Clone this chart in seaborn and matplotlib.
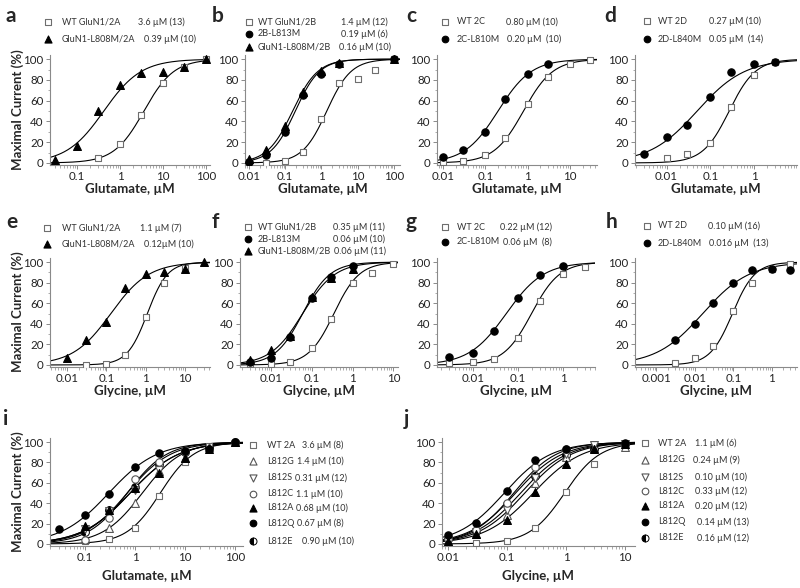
import numpy as np
import pandas as pd
import matplotlib
matplotlib.use('Agg')
import matplotlib.pyplot as plt
import seaborn as sns
from matplotlib.ticker import FuncFormatter, LogLocator, MultipleLocator

sns.set_style('ticks')
plt.rcParams['font.family'] = ['Lato', 'DejaVu Sans']

# ---------------- data ----------------
# panel a (glutamate, GluN1/2A)
a_names = ['WT GluN1/2A', 'GluN1-L808M/2A']
a_ec50_txt = ['3.6 µM (13)', '0.39 µM (10)']
a_marks = ['sq', 'tr']
a_conc = [[0.3, 1, 3, 10, 30, 100], [0.03, 0.1, 0.3, 1, 3, 10, 30, 100]]
a_resp = [[5, 18, 46, 77, 92, 100], [3, 16, 50, 75, 87, 88, 92, 100]]
a_fit_ec50 = [3.6, 0.42]
a_fit_hill = [1.25, 1.0]

# panel b (glutamate, GluN1/2B)
b_names = ['WT GluN1/2B', '2B-L813M', 'GluN1-L808M/2B']
b_ec50_txt = ['1.4 µM (12)', '0.19 µM (6)', '0.16 µM (10)']
b_marks = ['sq', 'ci', 'tr']
b_conc = [[0.01, 0.03, 0.1, 0.3, 1, 3, 10, 30, 100],
          [0.01, 0.03, 0.1, 0.3, 1, 3, 100],
          [0.01, 0.03, 0.1, 0.3, 1, 3, 100]]
b_resp = [[1, 0, 2, 11, 42, 77, 81, 90, 100],
          [1, 8, 30, 65, 86, 95, 100],
          [4, 12, 36, 68, 89, 96, 100]]
b_fit_ec50 = [1.4, 0.19, 0.16]
b_fit_hill = [1.3, 1.3, 1.25]

# panel c (glutamate, 2C)
c_names = ['WT 2C', '2C-L810M']
c_ec50_txt = ['0.80 µM (10)', '0.20 µM  (10)']
c_marks = ['sq', 'ci']
c_conc = [[0.01, 0.03, 0.1, 0.3, 1, 3, 10, 30], [0.01, 0.03, 0.1, 0.3, 1, 3]]
c_resp = [[1, 2, 8, 24, 57, 83, 95, 99], [6, 12, 30, 62, 86, 95]]
c_fit_ec50 = [0.8, 0.2]
c_fit_hill = [1.25, 1.1]

# panel d (glutamate, 2D)
d_names = ['WT 2D', '2D-L840M']
d_ec50_txt = ['0.27 µM (10)', '0.05 µM  (14)']
d_marks = ['sq', 'ci']
d_conc = [[0.01, 0.03, 0.1, 0.3, 1, 3], [0.003, 0.01, 0.03, 0.1, 0.3, 1, 3]]
d_resp = [[5, 9, 19, 54, 85, 97], [9, 25, 37, 64, 88, 95, 97]]
d_fit_ec50 = [0.27, 0.05]
d_fit_hill = [1.45, 0.8]

# panel e (glycine, GluN1/2A)
e_names = ['WT GluN1/2A', 'GluN1-L808M/2A']
e_ec50_txt = ['1.1 µM (7)', '0.12µM (10)']
e_marks = ['sq', 'tr']
e_conc = [[0.03, 0.1, 0.3, 1, 3, 10], [0.01, 0.03, 0.1, 0.3, 1, 3, 10, 30]]
e_resp = [[0, 1, 10, 47, 80, 94], [7, 24, 42, 75, 88, 90, 93, 100]]
e_fit_ec50 = [1.1, 0.13]
e_fit_hill = [1.7, 0.9]

# panel f (glycine, GluN1/2B)
f_names = ['WT GluN1/2B', '2B-L813M', 'GluN1-L808M/2B']
f_ec50_txt = ['0.35 µM (11)', '0.06 µM (10)', '0.06 µM (11)']
f_marks = ['sq', 'ci', 'tr']
f_conc = [[0.003, 0.01, 0.03, 0.1, 0.3, 1, 3, 10],
          [0.003, 0.01, 0.03, 0.1, 0.3, 1],
          [0.003, 0.01, 0.03, 0.1, 0.3, 1]]
f_resp = [[1, 1, 3, 16, 45, 80, 89, 98],
          [3, 7, 27, 65, 86, 96],
          [5, 15, 28, 66, 85, 93]]
f_fit_ec50 = [0.35, 0.06, 0.06]
f_fit_hill = [1.4, 1.3, 1.1]

# panel g (glycine, 2C)
g_names = ['WT 2C', '2C-L810M']
g_ec50_txt = ['0.22 µM (12)', '0.06 µM  (8)']
g_marks = ['sq', 'ci']
g_conc = [[0.003, 0.01, 0.03, 0.1, 0.3, 1, 3], [0.003, 0.01, 0.03, 0.1, 0.3, 1]]
g_resp = [[2, 3, 6, 26, 62, 88, 95], [8, 12, 33, 65, 87, 96]]
g_fit_ec50 = [0.2, 0.055]
g_fit_hill = [1.4, 1.05]

# panel h (glycine, 2D)
h_names = ['WT 2D', '2D-L840M']
h_ec50_txt = ['0.10 µM (16)', '0.016 µM  (13)']
h_marks = ['sq', 'ci']
h_conc = [[0.003, 0.01, 0.03, 0.1, 0.3, 1, 3], [0.003, 0.01, 0.03, 0.1, 0.3, 1, 3]]
h_resp = [[2, 7, 18, 52, 80, 93, 98], [24, 40, 60, 80, 92, 93, 92]]
h_fit_ec50 = [0.095, 0.016]
h_fit_hill = [1.5, 0.72]

# panel i (glutamate, L812 mutants)
i_names = ['WT 2A', 'L812G', 'L812S', 'L812C', 'L812A', 'L812Q', 'L812E']
i_ec50_txt = ['3.6 µM (8)', '1.4 µM (10)', '0.31 µM (12)', '1.1 µM (10)',
              '0.68 µM (10)', '0.67 µM (8)', '0.90 µM (10)']
i_marks = ['sq', 'ot', 'od', 'oc', 'tr', 'ci', 'hc']
i_conc = [[0.1, 0.3, 1, 3, 10, 30, 100],
          [0.1, 0.3, 1, 3, 10, 30, 100],
          [0.1, 0.3, 1, 3, 10],
          [0.1, 0.3, 1, 3, 10, 100],
          [0.1, 0.3, 1, 3, 10, 30, 100],
          [0.03, 0.1, 0.3, 1, 3, 10, 30, 100],
          [0.1, 0.3, 1, 3, 10, 30, 100]]
i_resp = [[3, 5, 16, 47, 80, 96, 100],
          [5, 16, 40, 72, 84, 95, 100],
          [15, 32, 53, 73, 88],
          [4, 25, 64, 80, 90, 100],
          [18, 33, 55, 70, 84, 93, 100],
          [15, 28, 49, 76, 89, 91, 93, 100],
          [12, 33, 56, 78, 90, 95, 100]]
i_fit_ec50 = [3.2, 1.4, 0.8, 0.7, 0.8, 0.3, 0.7]
i_fit_hill = [1.3, 1.1, 0.9, 1.1, 0.9, 0.9, 1.0]

# panel j (glycine, L812 mutants)
j_names = ['WT 2A', 'L812G', 'L812S', 'L812C', 'L812A', 'L812Q', 'L812E']
j_ec50_txt = ['1.1 µM (6)', '0.24 µM (9)', '0.10 µM (10)', '0.33 µM (12)',
              '0.20 µM (12)', '0.14 µM (13)', '0.16 µM (12)']
j_marks = ['sq', 'ot', 'od', 'oc', 'tr', 'ci', 'hc']
j_conc = [[0.03, 0.1, 0.3, 1, 3, 10],
          [0.01, 0.03, 0.1, 0.3, 1, 3, 10],
          [0.01, 0.03, 0.1, 0.3, 1, 3, 10],
          [0.01, 0.03, 0.1, 0.3, 1, 10],
          [0.01, 0.03, 0.1, 0.3, 1, 3, 10],
          [0.01, 0.03, 0.1, 0.3, 1, 10],
          [0.01, 0.03, 0.1, 0.3, 1, 3, 10]]
j_resp = [[1, 3, 16, 51, 78, 96],
          [3, 10, 28, 60, 85, 94, 95],
          [4, 12, 33, 65, 88, 97, 98],
          [5, 14, 40, 76, 93, 98],
          [3, 10, 24, 51, 78, 93, 98],
          [9, 21, 52, 82, 93, 99],
          [5, 13, 39, 67, 87, 93, 98]]
j_fit_ec50 = [0.95, 0.2, 0.17, 0.13, 0.28, 0.09, 0.14]
j_fit_hill = [1.45, 1.1, 1.1, 1.2, 1.05, 1.1, 1.1]

# ---------------- styling ----------------
W, H = 800, 588
GRAY = '#8a8a8a'
MARKS = {
    'sq': dict(marker='s', facecolor='white', edgecolor='#6e6e6e', s=24),
    'ci': dict(marker='o', facecolor='black', edgecolor='black', s=28),
    'tr': dict(marker='^', facecolor='black', edgecolor='black', s=32),
    'ot': dict(marker='^', facecolor='white', edgecolor='#555555', s=32),
    'od': dict(marker='v', facecolor='white', edgecolor='#555555', s=32),
    'oc': dict(marker='o', facecolor='white', edgecolor='#555555', s=28),
}


def px_axes(fig, x0, x1, y0, y1):
    return fig.add_axes([x0 / W, 1 - y1 / H, (x1 - x0) / W, (y1 - y0) / H])


def hill(x, ec50, nh):
    return 100 / (1 + (ec50 / x) ** nh)


def draw_marker(ax, x, y, kind, size_scale=1.0):
    if kind == 'hc':
        # half filled circle, seaborn scatter can't do fillstyle
        ax.plot(x, y, ls='none', marker='o', ms=5.6 * size_scale, fillstyle='left',
                markerfacecolor='black', markerfacecoloralt='white',
                markeredgecolor='black', markeredgewidth=0.7)
    else:
        st = dict(MARKS[kind])
        st['s'] = st['s'] * size_scale ** 2
        sns.scatterplot(x=x, y=y, ax=ax, linewidth=0.8, zorder=3, legend=False, **st)


def draw_panel(fig, box, xlim, conc, resp, marks, ec50, hill_n):
    ax = px_axes(fig, *box)
    ax.set_xscale('log')
    # fitted Hill curves
    xs = np.geomspace(xlim[0], xlim[1], 200)
    for e, n in zip(ec50, hill_n):
        sns.lineplot(x=xs, y=hill(xs, e, n), ax=ax, color='black', lw=0.8)
    for x, y, m in zip(conc, resp, marks):
        draw_marker(ax, x, y, m)
    ax.set_xlim(*xlim)
    ax.set_ylim(-2, 104)
    ax.set_yticks([0, 20, 40, 60, 80, 100])
    ax.yaxis.set_minor_locator(MultipleLocator(10))
    ax.xaxis.set_major_locator(LogLocator(base=10, numticks=20))
    ax.xaxis.set_minor_locator(LogLocator(base=10, subs=np.arange(2, 10), numticks=20))
    ax.xaxis.set_major_formatter(FuncFormatter(lambda v, p: '%g' % v))
    ax.xaxis.set_minor_formatter(FuncFormatter(lambda v, p: ''))
    sns.despine(ax=ax)
    for s in ['left', 'bottom']:
        ax.spines[s].set_color(GRAY)
        ax.spines[s].set_linewidth(0.8)
    ax.tick_params(which='major', length=3, width=0.7, color=GRAY,
                   labelsize=8.3, labelcolor='#222222', pad=1.5)
    ax.tick_params(which='minor', length=1.8, width=0.5, color=GRAY)
    ax.set_xlabel('')
    ax.set_ylabel('')
    return ax


fig = plt.figure(figsize=(8, 5.88), dpi=100)

panels = [
    ((50, 210, 55, 165), (0.0235, 124), a_conc, a_resp, a_marks, a_fit_ec50, a_fit_hill),
    ((245, 400, 55, 165), (0.0078, 146), b_conc, b_resp, b_marks, b_fit_ec50, b_fit_hill),
    ((437, 597, 55, 165), (0.0072, 44), c_conc, c_resp, c_marks, c_fit_ec50, c_fit_hill),
    ((635, 797, 55, 165), (0.0019, 9.6), d_conc, d_resp, d_marks, d_fit_ec50, d_fit_hill),
    ((50, 210, 258, 367), (0.0037, 43), e_conc, e_resp, e_marks, e_fit_ec50, e_fit_hill),
    ((240, 398, 258, 367), (0.00175, 13), f_conc, f_resp, f_marks, f_fit_ec50, f_fit_hill),
    ((437, 595, 258, 367), (0.0016, 5.1), g_conc, g_resp, g_marks, g_fit_ec50, g_fit_hill),
    ((635, 797, 258, 367), (0.00028, 4.5), h_conc, h_resp, h_marks, h_fit_ec50, h_fit_hill),
    ((50, 243, 438, 546), (0.02, 144), i_conc, i_resp, i_marks, i_fit_ec50, i_fit_hill),
    ((442, 635, 438, 546), (0.0079, 14.8), j_conc, j_resp, j_marks, j_fit_ec50, j_fit_hill),
]
axes = [draw_panel(fig, *p) for p in panels]

# overlay in pixel coordinates for legends, letters and axis titles
ov = fig.add_axes([0, 0, 1, 1], zorder=10)
ov.set_xlim(0, W)
ov.set_ylim(H, 0)
ov.axis('off')
renderer = fig.canvas.get_renderer()

legends = [
    (48, 62, [138, 144], [22, 39], a_names, a_ec50_txt, a_marks),
    (249, 258, [341, 341, 339], [22, 34, 47], b_names, b_ec50_txt, b_marks),
    (445, 457, [506, 507], [22, 39], c_names, c_ec50_txt, c_marks),
    (647, 658, [709, 709], [21, 39], d_names, d_ec50_txt, d_marks),
    (47, 62, [140, 144], [228, 244], e_names, e_ec50_txt, e_marks),
    (248, 258, [333, 333, 328], [227, 239, 251], f_names, f_ec50_txt, f_marks),
    (445, 457, [500, 497], [227, 242], g_names, g_ec50_txt, g_marks),
    (647, 658, [708, 709], [226, 243], h_names, h_ec50_txt, h_marks),
    (253, 267, [302, 293, 294, 293, 293, 293, 302], [445, 461, 478, 494, 508, 523, 541],
     i_names, i_ec50_txt, i_marks),
    (645, 658, [695, 693, 695, 695, 695, 697, 697], [443, 460, 477, 491, 506, 522, 538],
     j_names, j_ec50_txt, j_marks),
]
for (mx, tx, vxs, ys, names, vals, marks) in legends:
    for y, n, v, m, vx in zip(ys, names, vals, marks, vxs):
        draw_marker(ov, [mx], [y], m, size_scale=0.9)
        t = ov.text(tx, y, n, fontsize=6.5, va='center', ha='left', color='#333333')
        # keep the value clear of a long name
        name_end = t.get_window_extent(renderer=renderer).x1
        ov.text(max(vx, name_end + 3), y, v, fontsize=6.5, va='center', ha='left',
                color='#333333')

# panel letters
for ch, x, y in [('a', 6, 22), ('b', 212, 22), ('c', 406, 22), ('d', 604, 22),
                 ('e', 6, 228), ('f', 212, 228), ('g', 406, 228), ('h', 606, 228),
                 ('i', 3, 425), ('j', 404, 425)]:
    ov.text(x, y, ch, fontsize=15, fontweight='bold', va='baseline', ha='left')

# axis titles
for box, lab, ly in [
        ((50, 210), 'Glutamate, µM', 189), ((245, 400), 'Glutamate, µM', 189),
        ((437, 597), 'Glutamate, µM', 189), ((635, 797), 'Glutamate, µM', 189),
        ((50, 210), 'Glycine, µM', 391), ((240, 398), 'Glycine, µM', 391),
        ((437, 595), 'Glycine, µM', 391), ((635, 797), 'Glycine, µM', 391),
        ((50, 243), 'Glutamate, µM', 576), ((442, 635), 'Glycine, µM', 576)]:
    ov.text((box[0] + box[1]) / 2, ly, lab, fontsize=9.5, fontweight='bold',
            ha='center', va='center')

for yc in [110, 312, 492]:
    ov.text(18, yc, 'Maximal Current (%)', fontsize=9.5, fontweight='bold',
            rotation=90, ha='center', va='center')

fig.savefig('out.png', dpi=100)
